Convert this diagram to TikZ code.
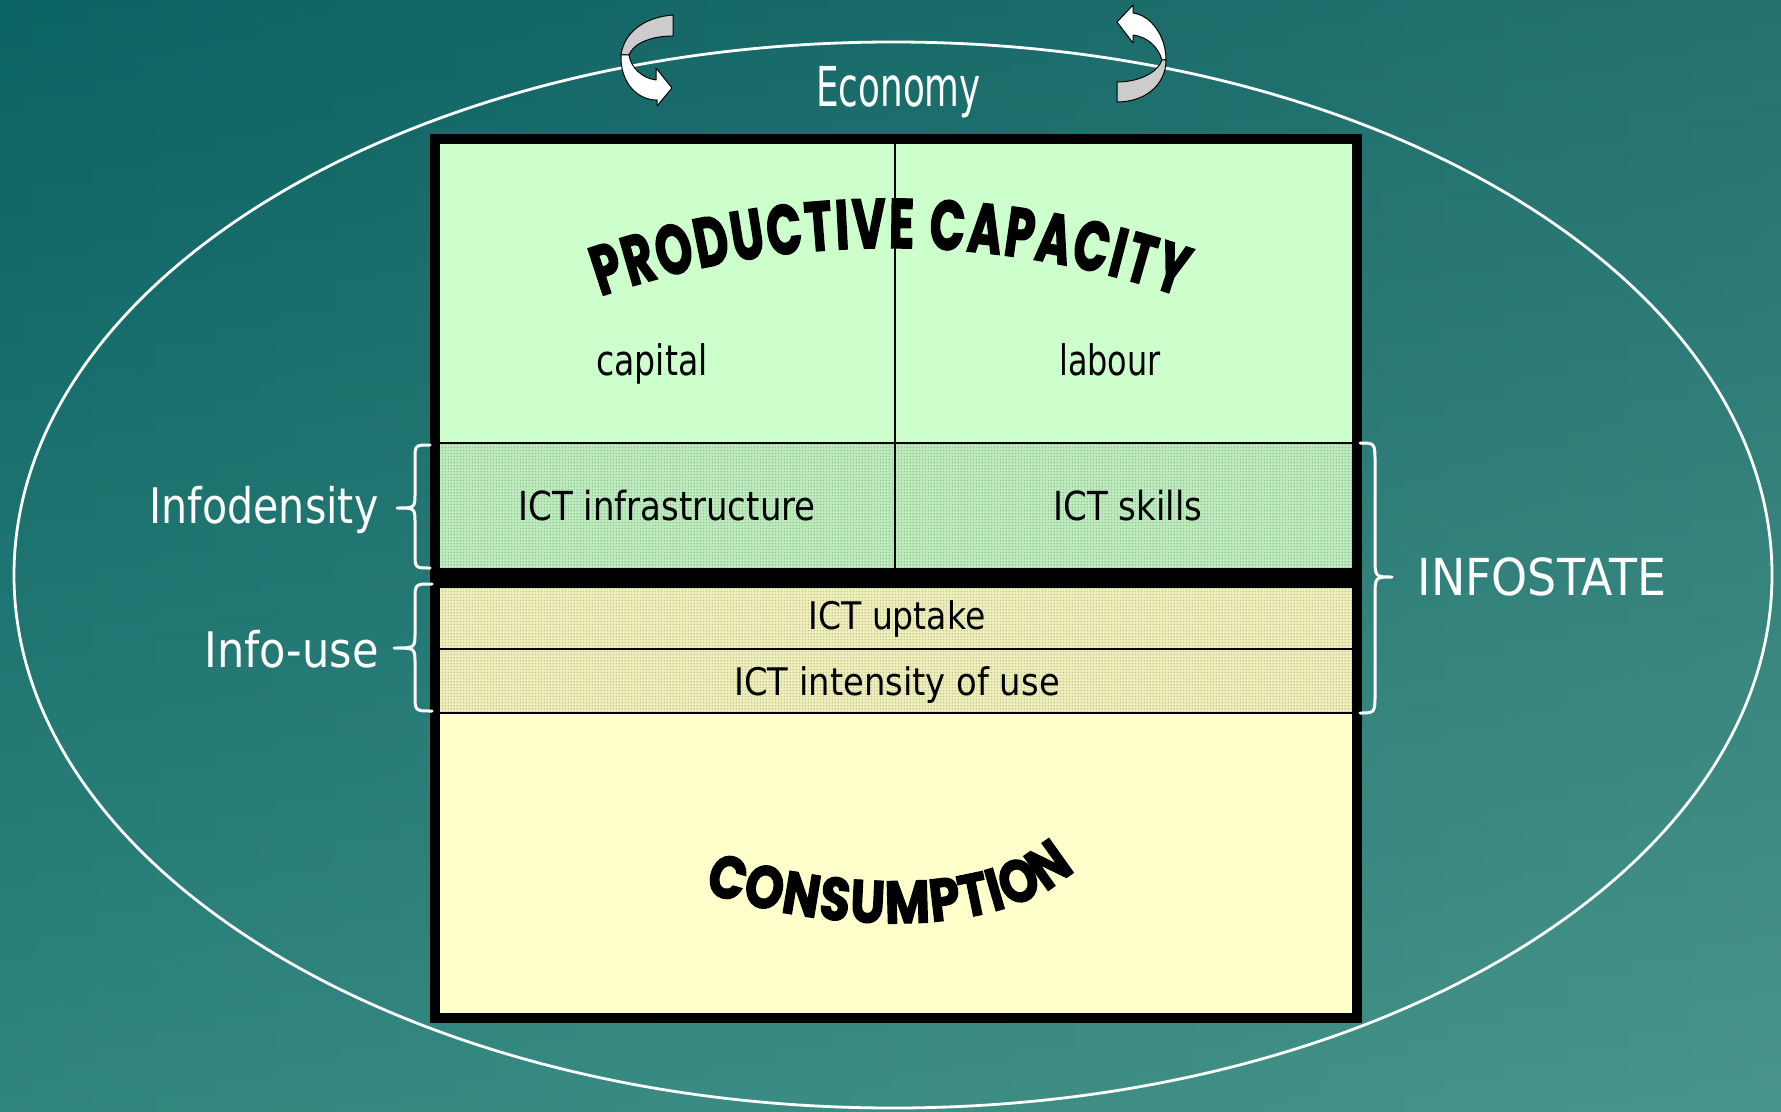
\documentclass[tikz,border=0pt]{standalone}
\usepackage{fontspec}
\usepackage{graphicx}
\setmainfont{DejaVu Sans}
\newfontfamily\comicA{Poppins}[FakeStretch=0.66, FakeBold=2]
\newfontfamily\comicB{Poppins}[FakeStretch=0.82, FakeBold=2]
\usetikzlibrary{decorations.text,patterns}
\pgfdeclarepatternformonly{finedots}{\pgfqpoint{0pt}{0pt}}{\pgfqpoint{1.5pt}{1.5pt}}{\pgfqpoint{1.5pt}{1.5pt}}{\pgfpathrectangle{\pgfqpoint{0.5pt}{0.5pt}}{\pgfqpoint{0.5pt}{0.5pt}}\pgfusepath{fill}}
\newcommand\sqz[2]{\scalebox{#1}[1]{#2}}
\definecolor{bgL}{HTML}{0D6868}
\definecolor{bgR}{HTML}{3A8580}
\definecolor{bgT}{HTML}{0A5C5C}
\definecolor{bgB}{HTML}{5AA898}
\definecolor{greenTop}{HTML}{CCFFCC}
\definecolor{greenBase}{HTML}{BEEBBE}
\definecolor{greenDot}{HTML}{4F8A5E}
\definecolor{yelBase}{HTML}{EEEEBA}
\definecolor{yelDot}{HTML}{86865A}
\definecolor{consume}{HTML}{FFFFCC}
\definecolor{ribbonGray}{HTML}{CCCCCC}
\begin{document}
\begin{tikzpicture}[x=0.5pt,y=0.5pt,
  lbl/.style={inner sep=0pt, anchor=base, text=black},
  wlbl/.style={inner sep=0pt, anchor=base, text=white},
  bracestyle/.style={draw=white, line width=1.5pt, line cap=round, line join=round},
  thinline/.style={line width=0.75pt},
  ribbon/.style={draw=black, line width=0.5pt, line join=round}]
\useasboundingbox (0,0) rectangle (1781,-1112);
% background
\shade[left color=bgL, right color=bgR] (0,0) rectangle (1781,-1112);
\shade[top color=bgT, bottom color=bgB, opacity=0.45] (0,0) rectangle (1781,-1112);
% economy ellipse
\draw[white, line width=1.4pt] (893,-575) ellipse [x radius=439.5pt, y radius=266.5pt];
% ribbon arrows
\filldraw[ribbon, fill=ribbonGray] (673,-15) .. controls (645,-17) and (624,-32) .. (621,-55) -- (629,-55) .. controls (633,-44) and (650,-36) .. (673,-36) -- cycle;
\filldraw[ribbon, fill=white] (621,-55) .. controls (620,-80) and (635,-100) .. (657,-100) -- (657,-106) -- (672,-88) -- (656,-68) -- (656,-80) .. controls (642,-78) and (631,-68) .. (629,-55) -- cycle;
\filldraw[ribbon, fill=white] (1133,-5) -- (1117,-22) -- (1133,-43) -- (1133,-35) .. controls (1148,-37) and (1158,-47) .. (1162,-60) -- (1166,-60) .. controls (1166,-35) and (1150,-15) .. (1133,-13) -- cycle;
\filldraw[ribbon, fill=ribbonGray] (1166,-60) .. controls (1166,-85) and (1145,-102) .. (1117,-102) -- (1117,-82) .. controls (1140,-82) and (1158,-72) .. (1162,-60) -- cycle;
% box sections
\fill[greenTop] (435,-139) rectangle (1357,-443);
\fill[greenBase] (435,-443) rectangle (1357,-568);
\fill[pattern=finedots, pattern color=greenDot] (435,-443) rectangle (1357,-568);
\fill[yelBase] (435,-588) rectangle (1357,-713);
\fill[pattern=finedots, pattern color=yelDot] (435,-588) rectangle (1357,-713);
\fill[consume] (435,-713) rectangle (1357,-1018);
\draw[thinline] (895,-139) -- (895,-568);
\draw[thinline] (435,-443) -- (1357,-443);
\draw[thinline] (435,-649) -- (1357,-649);
\draw[line width=1pt] (435,-713) -- (1357,-713);
\fill[black] (430,-568) rectangle (1362,-588);
\draw[line width=5pt] (435,-139) rectangle (1357,-1018);
% braces
\draw[bracestyle] (430,-445) .. controls (415,-445) .. (415,-460) -- (415,-493) .. controls (415,-508) .. (397,-508) .. controls (415,-508) .. (415,-523) -- (415,-553) .. controls (415,-568) .. (430,-568);
\draw[bracestyle] (432,-584) .. controls (415,-584) .. (415,-600) -- (415,-633) .. controls (415,-648) .. (394,-648) .. controls (415,-648) .. (415,-663) -- (415,-695) .. controls (415,-711) .. (432,-711);
\draw[bracestyle] (1360,-443) .. controls (1375,-443) .. (1375,-463) -- (1375,-557) .. controls (1375,-577) .. (1392,-577) .. controls (1375,-577) .. (1375,-597) -- (1375,-693) .. controls (1375,-713) .. (1360,-713);
% arched titles
\path[decorate, decoration={text along path, text align=fit to path,
  text={|\comicA\bfseries\fontsize{35}{40}\selectfont|PRODUCTIVE CAPACITY}}]
  (600.6,-296.4) arc[start angle=109, end angle=71, radius=444.5pt];
\path[decorate, decoration={text along path, text align=fit to path,
  text={|\comicB\bfseries\fontsize{30}{34}\selectfont|CONSUMPTION}}]
  (704,-892) .. controls (830,-934) and (1000,-940) .. (1075,-870);
% labels
\node[wlbl, font=\fontsize{27.5}{30}\selectfont] (economy) at (898.5,-107) {\sqz{0.65}{Economy}};
\node[lbl, font=\fontsize{21}{24}\selectfont] (capital) at (652,-375) {\sqz{0.79}{capital}};
\node[lbl, font=\fontsize{21}{24}\selectfont] (labour) at (1110,-375) {\sqz{0.76}{labour}};
\node[lbl, font=\fontsize{20}{24}\selectfont] (infra) at (667,-520) {\sqz{0.85}{ICT infrastructure}};
\node[lbl, font=\fontsize{20}{24}\selectfont] (skills) at (1128,-520) {\sqz{0.85}{ICT skills}};
\node[lbl, font=\fontsize{19}{22}\selectfont] (uptake) at (897,-629) {\sqz{0.87}{ICT uptake}};
\node[lbl, font=\fontsize{19}{22}\selectfont] (intensity) at (897,-695) {\sqz{0.89}{ICT intensity of use}};
\node[wlbl, font=\fontsize{24.5}{28}\selectfont] (infodensity) at (264,-523) {\sqz{0.84}{Infodensity}};
\node[wlbl, font=\fontsize{24.5}{28}\selectfont] (infouse) at (291.5,-667) {\sqz{0.88}{Info-use}};
\node[wlbl, font=\fontsize{25.5}{28}\selectfont] (infostate) at (1542,-595) {\sqz{0.9}{INFOSTATE}};
\end{tikzpicture}
\end{document}
